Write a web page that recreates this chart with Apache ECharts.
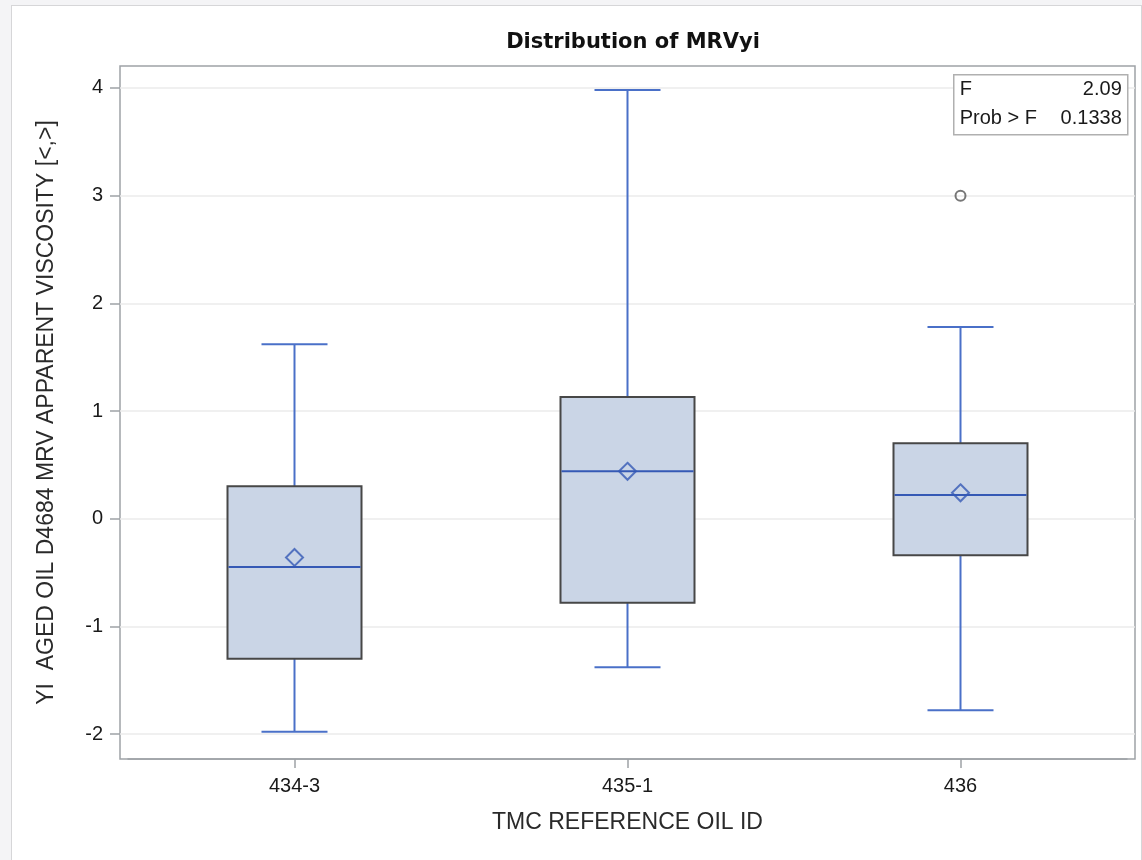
<!DOCTYPE html>
<html><head><meta charset="utf-8">
<script src="https://cdn.jsdelivr.net/npm/echarts@6/dist/echarts.min.js"></script>
<style>
html,body{margin:0;padding:0;background:#f4f4f6;}
#frame{position:absolute;left:11px;top:5px;width:1129px;height:870px;border:1px solid #d6d6d8;background:#fff;}
#c{position:absolute;left:0;top:0;width:1142px;height:860px;}
</style>
</head><body><div id="frame"></div><div id="c"></div>
<script>
// ---- data ----
const categories = ['434-3', '435-1', '436'];
const whiskerLow  = [-1.98, -1.38, -1.78];
const q1          = [-1.30, -0.78, -0.34];
const median      = [-0.45, 0.44, 0.22];
const q3          = [0.30, 1.13, 0.70];
const whiskerHigh = [1.62, 3.98, 1.78];
const means       = [-0.36, 0.44, 0.24];
const outlierCats = ['436'];
const outlierVals = [3.0];
const yTicks = [-2, -1, 0, 1, 2, 3, 4];
const statsLabels = ['F', 'Prob > F'];
const statsValues = ['2.09', '0.1338'];

const Y_MIN = -2.232, Y_MAX = 4.204;
const FONT = '"Liberation Sans", Arial, sans-serif';

const boxData = categories.map((c, i) => [i, whiskerLow[i], q1[i], median[i], q3[i], whiskerHigh[i]]);
const meanData = categories.map((c, i) => [i, means[i]]);
const outlierData = outlierCats.map((c, k) => [categories.indexOf(c), outlierVals[k]]);

const BLUE = '#4a70c8', BLUE_DARK = '#3559b5';
const FRAME = '#9ea2a7';

function renderBox(params, api) {
  const x = api.value(0);
  const pLow = api.coord([x, api.value(1)]);
  const pQ1 = api.coord([x, api.value(2)]);
  const pMed = api.coord([x, api.value(3)]);
  const pQ3 = api.coord([x, api.value(4)]);
  const pHigh = api.coord([x, api.value(5)]);
  const cx = pQ1[0];
  const half = 67, capHalf = 33;
  const line = { stroke: BLUE, lineWidth: 2 };
  return {
    type: 'group',
    children: [
      { type: 'line', shape: { x1: cx, y1: pQ3[1], x2: cx, y2: pHigh[1] }, style: line },
      { type: 'line', shape: { x1: cx, y1: pQ1[1], x2: cx, y2: pLow[1] }, style: line },
      { type: 'line', shape: { x1: cx - capHalf, y1: pHigh[1], x2: cx + capHalf, y2: pHigh[1] }, style: line },
      { type: 'line', shape: { x1: cx - capHalf, y1: pLow[1], x2: cx + capHalf, y2: pLow[1] }, style: line },
      { type: 'rect', shape: { x: cx - half, y: pQ3[1], width: 2 * half, height: pQ1[1] - pQ3[1] },
        style: { fill: '#cad5e6', stroke: '#474747', lineWidth: 2 } },
      { type: 'line', shape: { x1: cx - half + 1, y1: pMed[1], x2: cx + half - 1, y2: pMed[1] },
        style: { stroke: BLUE_DARK, lineWidth: 2 } }
    ]
  };
}

const chart = echarts.init(document.getElementById('c'), null, { renderer: 'canvas' });
chart.setOption({
  backgroundColor: 'transparent',
  animation: false,
  title: {
    text: 'Distribution of MRVyi', top: 27, left: 628, textAlign: 'center',
    textStyle: { fontFamily: '"DejaVu Sans", sans-serif', fontWeight: 'bold', fontSize: 21, color: '#111' }
  },
  grid: [
    { left: 120, top: 66, width: 1015, height: 693, show: true, backgroundColor: '#fff',
      borderColor: FRAME, borderWidth: 1.5 },
    { left: 128, top: 66, width: 999, height: 693, show: false }
  ],
  xAxis: [
    { type: 'value', gridIndex: 0, min: 0, max: 1, show: false },
    { type: 'category', gridIndex: 1, data: categories, position: 'bottom',
      axisLine: { show: true, onZero: false, lineStyle: { color: FRAME, width: 1.5 } },
      axisTick: { show: true, alignWithLabel: true, inside: false, length: 9, lineStyle: { color: FRAME, width: 1.5 } },
      axisLabel: { margin: 17, fontSize: 20, color: '#1a1a1a', fontFamily: FONT },
      name: 'TMC REFERENCE OIL ID', nameLocation: 'middle', nameGap: 52,
      nameTextStyle: { fontSize: 23, color: '#2a2a2a', fontFamily: FONT } }
  ],
  yAxis: [
    { type: 'value', gridIndex: 0, min: Y_MIN, max: Y_MAX,
      axisLine: { show: false },
      axisTick: { show: true, length: 10, customValues: yTicks, lineStyle: { color: FRAME, width: 1.5 } },
      axisLabel: { margin: 17, fontSize: 20, color: '#1a1a1a', fontFamily: FONT, customValues: yTicks,
        formatter: v => Number.isInteger(v) ? String(v) : '' },
      splitLine: { show: true, lineStyle: { color: '#ebebeb', width: 1.5 } },
      name: 'YI  AGED OIL D4684 MRV APPARENT VISCOSITY [<,>]', nameLocation: 'middle', nameGap: 62,
      nameTextStyle: { fontSize: 23, color: '#2a2a2a', fontFamily: FONT } },
    { type: 'value', gridIndex: 1, min: Y_MIN, max: Y_MAX, show: false, splitLine: { show: false } }
  ],
  series: [
    { type: 'custom', xAxisIndex: 1, yAxisIndex: 1, renderItem: renderBox, data: boxData, z: 2,
      encode: { x: 0, y: [1, 2, 3, 4, 5] } },
    { type: 'scatter', xAxisIndex: 1, yAxisIndex: 1, data: meanData, symbol: 'diamond', symbolSize: 17, z: 3,
      itemStyle: { color: 'rgba(0,0,0,0)', borderColor: BLUE_DARK, borderWidth: 2 } },
    { type: 'scatter', xAxisIndex: 1, yAxisIndex: 1, data: outlierData, symbol: 'circle', symbolSize: 10, z: 3,
      itemStyle: { color: 'rgba(0,0,0,0)', borderColor: '#555', borderWidth: 2 } }
  ],
  graphic: [
    { type: 'group', left: 953, top: 74, z: 100, children: [
      { type: 'rect', z: 100, shape: { x: 0, y: 0, width: 174, height: 60 },
        style: { fill: '#fff', stroke: '#b0b0b0', lineWidth: 1.5 } },
      { type: 'text', z: 101, x: 6, y: 15, style: { text: statsLabels[0], font: '20px ' + FONT, fill: '#1a1a1a', verticalAlign: 'middle' } },
      { type: 'text', z: 101, x: 168, y: 15, style: { text: statsValues[0], font: '20px ' + FONT, fill: '#1a1a1a', align: 'right', verticalAlign: 'middle' } },
      { type: 'text', z: 101, x: 6, y: 44, style: { text: statsLabels[1], font: '20px ' + FONT, fill: '#1a1a1a', verticalAlign: 'middle' } },
      { type: 'text', z: 101, x: 168, y: 44, style: { text: statsValues[1], font: '20px ' + FONT, fill: '#1a1a1a', align: 'right', verticalAlign: 'middle' } }
    ] }
  ]
});
</script>
</body></html>
